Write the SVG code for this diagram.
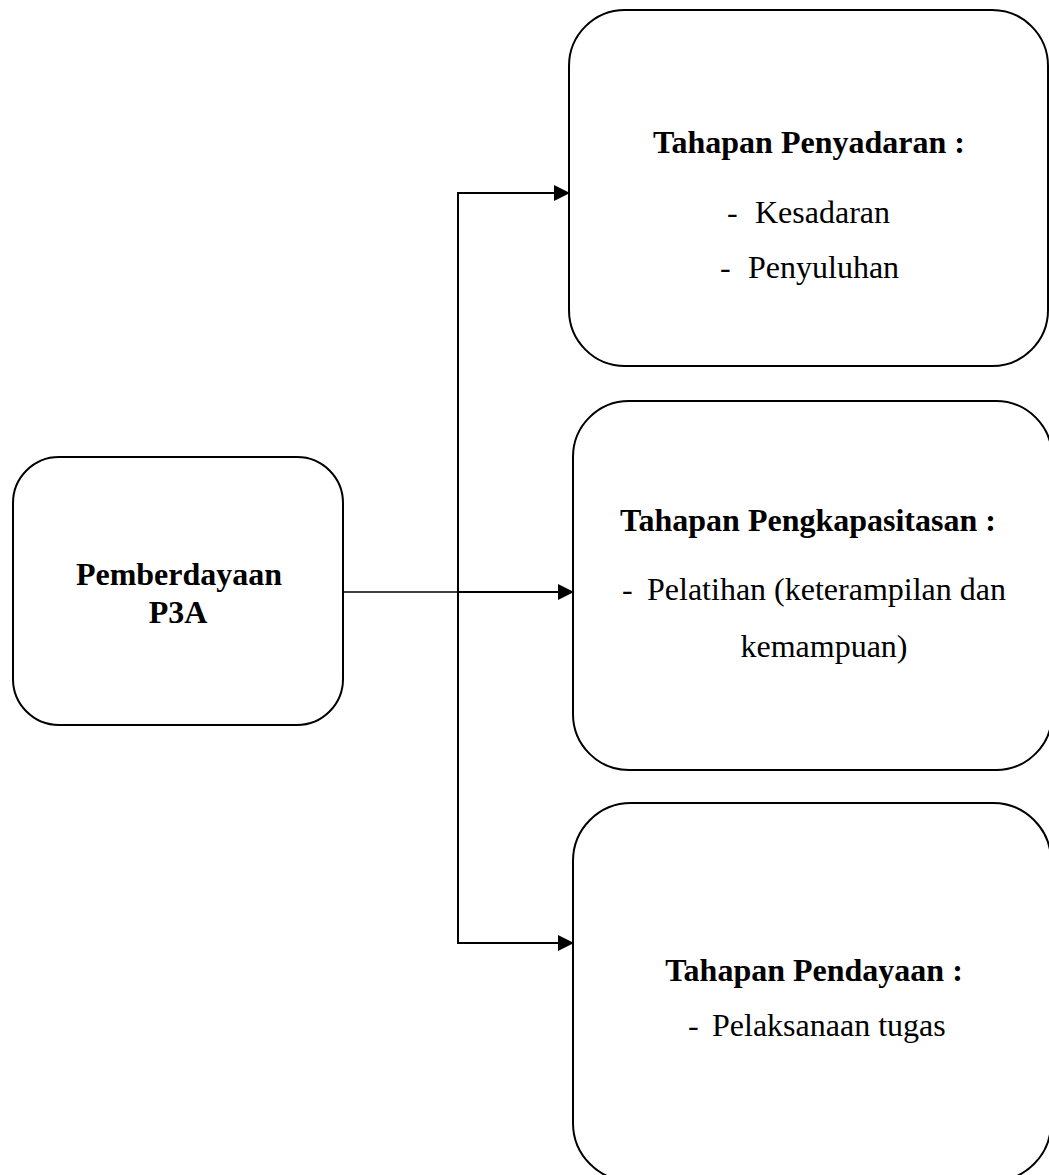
<svg xmlns="http://www.w3.org/2000/svg" width="1049" height="1175" viewBox="0 0 1049 1175">
  <style>
    .box { fill: #ffffff; stroke: #000000; stroke-width: 2; }
    .conn { fill: none; stroke: #000000; stroke-width: 2; }
    .thin { fill: none; stroke: #000000; stroke-width: 1.5; }
    .t { font-family: "Liberation Serif", "Times New Roman", serif; font-size: 32px; fill: #000000; }
    .b { font-weight: bold; }
    .m { text-anchor: middle; }
  </style>
  <defs>
    <marker id="arrow" markerUnits="userSpaceOnUse" markerWidth="16" markerHeight="18" refX="15" refY="8" orient="auto">
      <path d="M0,0 L16,8 L0,16 Z" fill="#000000"/>
    </marker>
  </defs>
  <rect width="1049" height="1175" fill="#ffffff"/>

  <g id="connectors">
    <line class="thin" x1="343" y1="592" x2="458" y2="592"/>
    <line class="conn" x1="458" y1="193" x2="458" y2="943"/>
    <line class="conn" x1="457" y1="193" x2="569" y2="193" marker-end="url(#arrow)"/>
    <line class="conn" x1="458" y1="592" x2="573" y2="592" marker-end="url(#arrow)"/>
    <line class="conn" x1="457" y1="943" x2="573" y2="943" marker-end="url(#arrow)"/>
  </g>

  <g id="node-pemberdayaan">
    <rect class="box" x="13" y="457" width="330" height="268" rx="46" ry="46"/>
    <text class="t b m" x="179" y="585">Pemberdayaan</text>
    <text class="t b m" x="178" y="623">P3A</text>
  </g>

  <g id="node-penyadaran">
    <rect class="box" x="569" y="10" width="479" height="356" rx="56" ry="56"/>
    <text class="t b m" x="809" y="153">Tahapan Penyadaran :</text>
    <text class="t" x="727" y="223">-</text>
    <text class="t" x="755" y="223">Kesadaran</text>
    <text class="t" x="720" y="278">-</text>
    <text class="t" x="748" y="278">Penyuluhan</text>
  </g>

  <g id="node-pengkapasitasan">
    <rect class="box" x="573" y="401" width="479" height="369" rx="56" ry="56"/>
    <text class="t b m" x="808" y="531">Tahapan Pengkapasitasan :</text>
    <text class="t" x="622" y="600">-</text>
    <text class="t" x="647" y="600">Pelatihan (keterampilan dan</text>
    <text class="t m" x="824" y="657">kemampuan)</text>
  </g>

  <g id="node-pendayaan">
    <rect class="box" x="573" y="803" width="478" height="378" rx="58" ry="58"/>
    <text class="t b m" x="814" y="981">Tahapan Pendayaan :</text>
    <text class="t" x="688" y="1036">-</text>
    <text class="t" x="712" y="1036">Pelaksanaan tugas</text>
  </g>
</svg>
